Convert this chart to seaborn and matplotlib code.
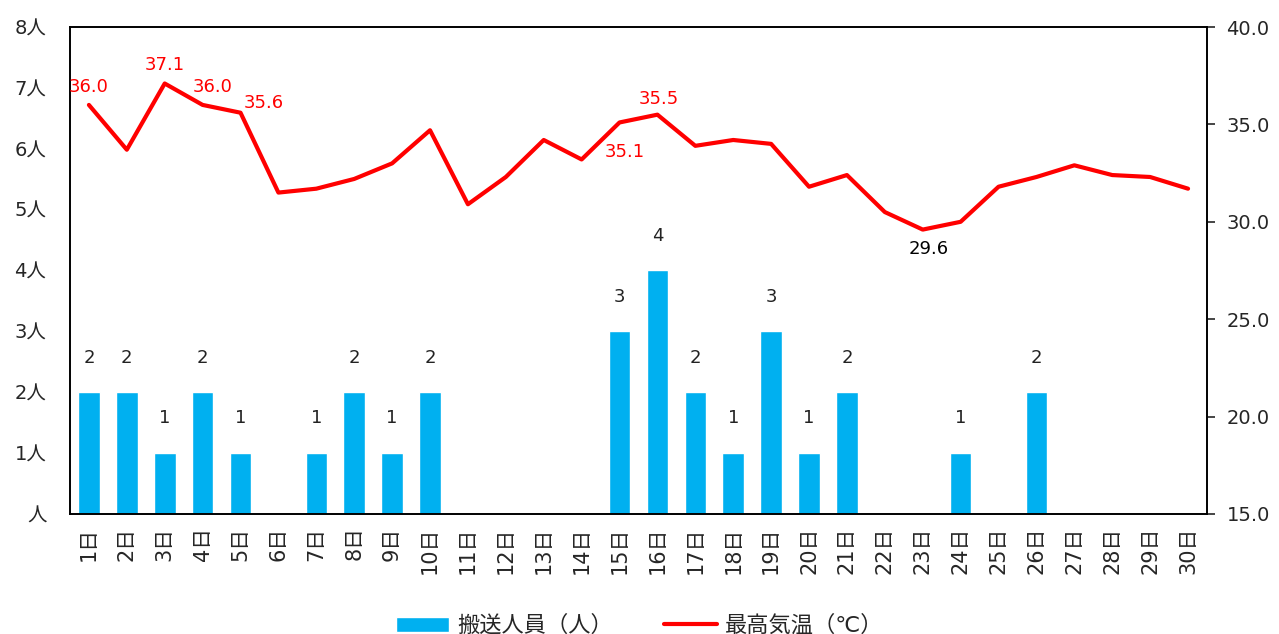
import pandas as pd
import matplotlib.pyplot as plt
import seaborn as sns
from matplotlib.patches import Patch
from matplotlib.lines import Line2D

days = [f"{d}日" for d in range(1, 31)]
patients = [2, 2, 1, 2, 1, 0, 1, 2, 1, 2, 0, 0, 0, 0, 3, 4, 2, 1, 3, 1, 2, 0, 0, 1, 0, 2, 0, 0, 0, 0]
max_temp = [36.0, 33.7, 37.1, 36.0, 35.6, 31.5, 31.7, 32.2, 33.0, 34.7,
            30.9, 32.3, 34.2, 33.2, 35.1, 35.5, 33.9, 34.2, 34.0, 31.8,
            32.4, 30.5, 29.6, 30.0, 31.8, 32.3, 32.9, 32.4, 32.3, 31.7]
left_ticks = [0, 1, 2, 3, 4, 5, 6, 7, 8]
left_labels = ["人", "1人", "2人", "3人", "4人", "5人", "6人", "7人", "8人"]
right_ticks = [15, 20, 25, 30, 35, 40]

# which temperature points get a label: (day index, colour, offset in points)
temp_labels = [(0, "red", (0, 13)), (2, "red", (0, 13)), (3, "red", (7, 13)),
               (4, "red", (17, 7)), (14, "red", (4, -21)), (15, "red", (1, 11)),
               (22, "black", (4, -14))]

bar_color = "#00B0F0"
line_color = "#FF0000"

sns.set_style("white")
plt.rcParams['font.family'] = ['DejaVu Sans', 'Noto Sans CJK JP']

df = pd.DataFrame({"day": days, "patients": patients, "temp": max_temp})
df["idx"] = range(len(df))

fig = plt.figure(figsize=(12.79, 6.34), dpi=100)
ax = fig.add_axes([0.0547, 0.1893, 0.8890, 0.7681])

sns.barplot(data=df, x="day", y="patients", color=bar_color, width=0.57,
            saturation=1, ax=ax)
ax.set_ylim(0, 8)
ax.set_yticks(left_ticks)
ax.set_yticklabels(left_labels, fontsize=14)
ax.tick_params(axis="y", length=0, pad=17)
ax.tick_params(axis="x", length=0, labelsize=15, labelrotation=90, pad=9)
ax.set_xlim(-0.5, 29.5)
ax.set_xlabel("")
ax.set_ylabel("")

for i, v in enumerate(patients):
    if v > 0:
        ax.annotate(str(v), xy=(i, v), xytext=(0, 25), textcoords="offset points",
                    ha="center", va="center", fontsize=13, color="#222222")

ax2 = ax.twinx()
sns.lineplot(data=df, x="idx", y="temp", color=line_color, linewidth=3, ax=ax2)
ax2.set_ylim(15, 40)
ax2.set_yticks(right_ticks)
ax2.set_yticklabels([f"{t:.1f}" for t in right_ticks], fontsize=14)
ax2.tick_params(axis="y", length=6, width=1.2, direction="out", pad=8, right=True)
ax2.set_xlim(-0.5, 29.5)
ax2.set_xlabel("")
ax2.set_ylabel("")

for i, c, off in temp_labels:
    ax2.annotate(f"{max_temp[i]:.1f}", xy=(i, max_temp[i]), xytext=off,
                 textcoords="offset points", ha="center", va="center",
                 fontsize=13, color=c)

for a in (ax, ax2):
    for s in a.spines.values():
        s.set_visible(True)
        s.set_color("black")
        s.set_linewidth(1.2)

handles = [Patch(facecolor=bar_color, label="搬送人員（人）"),
           Line2D([0], [0], color=line_color, linewidth=3, label="最高気温（℃）")]
fig.legend(handles=handles, loc="lower center", ncol=2, frameon=False,
           fontsize=16, handlelength=2.4, handletextpad=0.35, columnspacing=2.3,
           bbox_to_anchor=(0.5, -0.035))

fig.savefig("out.png", dpi=100)
